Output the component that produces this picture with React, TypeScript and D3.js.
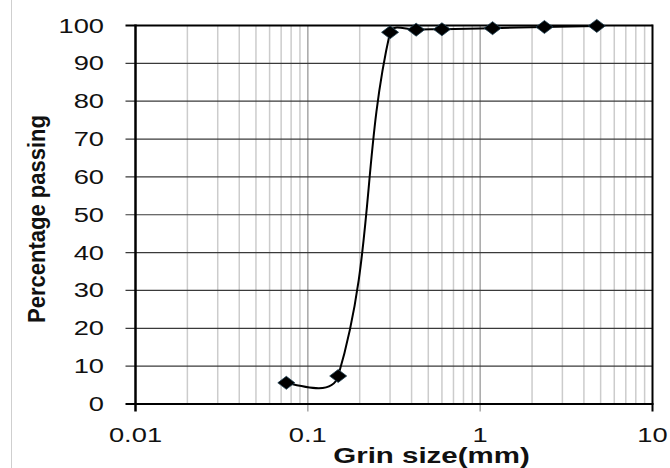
import React from "react";
import * as d3 from "d3";

const sieveSizes = [0.075, 0.15, 0.3, 0.425, 0.6, 1.18, 2.36, 4.75];
const percentPassing = [5.6, 7.4, 98.2, 98.9, 99.0, 99.3, 99.6, 99.9];
const yTicks = [0, 10, 20, 30, 40, 50, 60, 70, 80, 90, 100];
const xTicks = [0.01, 0.1, 1, 10];
const xTickLabels = ["0.01", "0.1", "1", "10"];

const W = 670;
const H = 468;
const FONT = "'Liberation Sans', Arial, Helvetica, sans-serif";

// Excel-like smoothed line through pixel points
function smoothPath(p: [number, number][], s: number): string {
  const n = p.length;
  const path = d3.path();
  if (n === 0) return "";
  const tan: ([number, number] | null)[] = p.map((_, i) => {
    if (i === 0 || i === n - 1) return null;
    const dx = p[i + 1][0] - p[i - 1][0];
    const dy = p[i + 1][1] - p[i - 1][1];
    const l = Math.hypot(dx, dy) || 1;
    return [dx / l, dy / l];
  });
  path.moveTo(p[0][0], p[0][1]);
  for (let i = 0; i < n - 1; i++) {
    const a = p[i];
    const b = p[i + 1];
    const L = Math.hypot(b[0] - a[0], b[1] - a[1]);
    let c1: [number, number] | null = tan[i] ? [a[0] + tan[i]![0] * L * s, a[1] + tan[i]![1] * L * s] : null;
    let c2: [number, number] | null = tan[i + 1] ? [b[0] - tan[i + 1]![0] * L * s, b[1] - tan[i + 1]![1] * L * s] : null;
    if (!c1 && !c2) {
      c1 = [a[0] + (b[0] - a[0]) / 3, a[1] + (b[1] - a[1]) / 3];
      c2 = [a[0] + (2 * (b[0] - a[0])) / 3, a[1] + (2 * (b[1] - a[1])) / 3];
    } else if (!c1) {
      c1 = [a[0] + (c2![0] - a[0]) * 0.5, a[1] + (c2![1] - a[1]) * 0.5];
    } else if (!c2) {
      c2 = [b[0] + (c1[0] - b[0]) * 0.5, b[1] + (c1[1] - b[1]) * 0.5];
    }
    path.bezierCurveTo(c1![0], c1![1], c2![0], c2![1], b[0], b[1]);
  }
  return path.toString();
}

export default function App() {
  const x = d3.scaleLog().domain([0.01, 10]).range([135.5, 652.5]);
  const y = d3.scaleLinear().domain([0, 100]).range([404, 25.5]);

  const minor: number[] = [];
  [0.01, 0.1, 1].forEach((d) => {
    for (let k = 2; k <= 9; k++) minor.push(k * d);
  });

  const pix = sieveSizes.map((s, i) => [x(s), y(percentPassing[i])] as [number, number]);
  const curveD = smoothPath(pix, 0.36);

  const left = x.range()[0];
  const right = x.range()[1];

  return (
    <svg
      width={W}
      height={H}
      style={{ position: "absolute", left: 0, top: 0, background: "#fff" }}
    >
      <rect x={0} y={0} width={W} height={H} fill="#fff" />
      <line x1={11.5} x2={11.5} y1={0} y2={H} stroke="#cfcfcf" strokeWidth={1} />

      {/* minor vertical grid */}
      {minor.map((v, i) => (
        <line key={"mv" + i} x1={x(v)} x2={x(v)} y1={y(100)} y2={y(0)} stroke="#cccccc" strokeWidth={1.5} />
      ))}
      {/* major vertical grid */}
      {[0.1, 1].map((v, i) => (
        <line key={"Mv" + i} x1={x(v)} x2={x(v)} y1={y(100)} y2={y(0) + 7.5} stroke="#a6a6a6" strokeWidth={1.5} />
      ))}
      {/* horizontal grid */}
      {yTicks.slice(1, -1).map((v) => (
        <line key={"h" + v} x1={left - 10} x2={right} y1={y(v)} y2={y(v)} stroke="#3a3a3a" strokeWidth={1.2} />
      ))}
      {/* frame */}
      <line x1={left - 10} x2={right} y1={y(100)} y2={y(100)} stroke="#000" strokeWidth={2} />
      <line x1={left - 10} x2={right + 1} y1={y(0)} y2={y(0)} stroke="#000" strokeWidth={2.2} />
      <line x1={left} x2={left} y1={y(100) - 1} y2={y(0) + 7.5} stroke="#000" strokeWidth={2.5} />
      <line x1={right} x2={right} y1={y(100) - 1} y2={y(0) + 7.5} stroke="#000" strokeWidth={2} />

      {/* y tick labels */}
      {yTicks.map((v) => (
        <text
          key={"yl" + v}
          transform={`translate(104,${y(v) + 7}) scale(1.4,1)`}
          textAnchor="end"
          fontFamily={FONT}
          fontSize={19.5}
          fill="#111"
        >
          {v}
        </text>
      ))}
      {/* x tick labels */}
      {xTicks.map((v, i) => (
        <text
          key={"xl" + v}
          transform={`translate(${x(v)},441.5) scale(1.3,1)`}
          textAnchor="middle"
          fontFamily={FONT}
          fontSize={21}
          fill="#111"
        >
          {xTickLabels[i]}
        </text>
      ))}

      {/* axis titles */}
      <text
        transform="translate(431.5,462.5) scale(1.34,1)"
        textAnchor="middle"
        fontFamily={FONT}
        fontSize={22}
        fontWeight="bold"
        fill="#111"
      >
        Grin size(mm)
      </text>
      <text
        transform="translate(45,219) scale(1.15,1) rotate(-90)"
        textAnchor="middle"
        fontFamily={FONT}
        fontSize={21}
        fontWeight="bold"
        fill="#111"
        textLength={208}
        lengthAdjust="spacingAndGlyphs"
      >
        Percentage passing
      </text>

      {/* curve */}
      <path d={curveD} fill="none" stroke="#000" strokeWidth={2} />
      {/* markers */}
      {pix.map((p, i) => {
        const cx = p[0];
        const cy = p[1];
        return (
          <path
            key={"m" + i}
            d={`M${cx - 8.5},${cy} L${cx},${cy - 6.5} L${cx + 8.5},${cy} L${cx},${cy + 6.5} Z`}
            fill="#000"
            stroke="#1d3f52"
            strokeWidth={0.8}
          />
        );
      })}
    </svg>
  );
}
